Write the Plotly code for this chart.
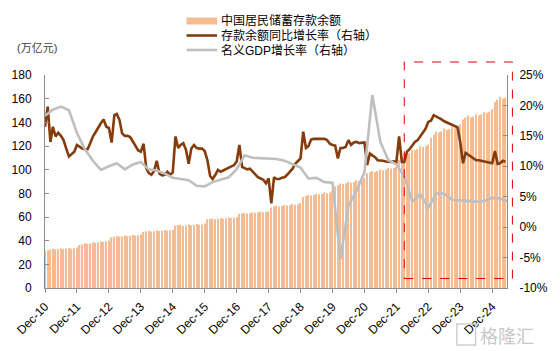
import pandas as pd
import plotly.graph_objects as go

# ---------------- data ----------------
months = pd.date_range("2010-12-01", "2025-05-01", freq="MS").strftime("%Y-%m-%d").tolist()

# 中国居民储蓄存款余额 (万亿元), monthly Dec-10 .. May-25
deposit_balance = (
    [31.5]
    + [32.0, 32.5, 33.0, 32.6, 32.8, 33.4, 33.2, 33.3, 33.7, 33.2, 33.5, 34.2]   # 2011
    + [36.3, 36.9, 37.8, 37.4, 37.7, 38.6, 38.3, 38.5, 39.4, 38.9, 39.2, 40.0]   # 2012
    + [42.8, 43.3, 44.0, 43.4, 43.6, 44.4, 43.9, 44.1, 44.8, 44.2, 44.5, 45.2]   # 2013
    + [47.5, 48.0, 48.4, 47.8, 48.0, 48.7, 48.1, 48.3, 49.0, 48.4, 48.7, 49.3]   # 2014
    + [52.8, 53.2, 53.4, 52.5, 52.9, 53.6, 53.0, 53.2, 54.0, 53.4, 53.7, 54.5]   # 2015
    + [58.0, 58.4, 58.6, 58.1, 58.3, 59.0, 58.6, 58.9, 59.6, 59.2, 59.4, 60.1]   # 2016
    + [62.8, 63.0, 63.4, 62.9, 63.1, 63.9, 63.5, 63.8, 64.6, 64.0, 64.3, 64.8]   # 2017
    + [68.0, 69.0, 69.6, 69.1, 69.3, 70.2, 69.7, 70.0, 71.0, 70.4, 70.8, 71.8]   # 2018
    + [77.0, 77.8, 78.6, 78.2, 78.5, 79.6, 79.2, 79.5, 80.7, 80.1, 80.6, 82.0]   # 2019
    + [86.0, 86.8, 88.3, 87.9, 88.3, 89.7, 89.0, 89.5, 91.0, 90.4, 91.0, 92.9]   # 2020
    + [97.0, 97.8, 98.8, 98.1, 98.7, 100.0, 99.5, 100.0, 101.6, 101.0, 101.5, 102.5]  # 2021
    + [108.4, 110.0, 113.5, 113.0, 113.9, 116.7, 116.5, 117.3, 119.7, 119.1, 119.7, 121.2]  # 2022
    + [127.0, 129.5, 132.3, 131.7, 132.3, 134.6, 133.8, 134.3, 136.0, 135.2, 135.8, 138.3]  # 2023
    + [142.5, 144.0, 145.8, 144.2, 144.8, 146.5, 146.0, 146.6, 148.5, 148.0, 149.0, 151.0]  # 2024
    + [157.2, 159.0, 161.5, 160.2, 160.8]                                        # 2025
)

# 存款余额同比增长率 (%), monthly Dec-10 .. May-25
deposit_yoy = (
    [16.5]
    + [19.8, 14.0, 16.5, 14.9, 15.5, 15.0, 14.3, 12.9, 11.6, 12.0, 12.4, 13.5]   # 2011
    + [13.2, 12.9, 12.8, 12.8, 13.8, 14.9, 15.6, 16.4, 17.1, 17.7, 16.5, 16.3]   # 2012
    + [13.9, 18.4, 18.6, 17.6, 15.4, 15.0, 15.0, 14.8, 14.0, 13.2, 12.6, 12.4]   # 2013
    + [13.7, 9.7, 8.9, 8.6, 9.2, 10.9, 8.8, 8.5, 8.6, 9.1, 8.6, 9.0]             # 2014
    + [14.9, 13.0, 13.5, 13.8, 12.7, 10.4, 12.9, 13.5, 13.0, 12.9, 12.9, 12.5]   # 2015
    + [11.0, 8.4, 7.9, 8.6, 9.4, 9.1, 9.3, 9.5, 9.8, 10.0, 10.2, 10.8]           # 2016
    + [13.5, 9.9, 9.7, 9.5, 9.6, 9.1, 8.6, 8.2, 8.0, 7.8, 7.2, 8.0]              # 2017
    + [3.9, 8.2, 7.9, 7.9, 8.1, 8.2, 8.6, 9.2, 9.6, 10.4, 10.8, 11.3]            # 2018
    + [15.7, 13.0, 13.3, 14.4, 14.5, 14.5, 14.5, 14.6, 14.5, 14.3, 13.7, 13.5]   # 2019
    + [13.4, 11.3, 13.0, 13.0, 13.2, 14.3, 13.5, 13.9, 14.0, 13.8, 13.9, 13.9]   # 2020
    + [10.2, 12.1, 11.8, 11.5, 11.0, 11.0, 10.9, 10.8, 10.75, 10.7, 10.8, 10.7] # 2021
    + [14.9, 10.75, 10.7, 12.4, 12.8, 13.5, 14.0, 14.3, 14.9, 15.5, 16.2, 17.3] # 2022
    + [17.5, 18.4, 18.2, 18.0, 17.7, 17.4, 17.2, 17.0, 16.8, 16.6, 16.4, 14.0]  # 2023
    + [10.5, 12.2, 11.9, 11.6, 11.3, 11.0, 11.0, 10.9, 10.7, 10.6, 10.6, 10.5]  # 2024
    + [12.5, 10.4, 10.5, 10.9, 10.75]                                            # 2025
)

# 名义GDP增长率 (%), quarterly Dec-10 .. Jun-25
quarters = pd.date_range("2010-12-01", "2025-06-01", freq="3MS").strftime("%Y-%m-%d").tolist()
gdp_nominal = (
    [18.3]
    + [19.3, 19.8, 19.2, 15.5]     # 2011
    + [12.8, 10.9, 9.4, 10.0]      # 2012
    + [10.5, 9.5, 10.3, 10.7]      # 2013
    + [9.5, 9.3, 8.8, 8.1]         # 2014
    + [7.9, 7.7, 6.8, 6.7]         # 2015
    + [7.4, 7.8, 8.2, 9.5]         # 2016
    + [11.8, 11.4, 11.3, 11.2]     # 2017
    + [11.2, 10.9, 10.4, 9.8]      # 2018
    + [8.0, 8.1, 7.4, 7.3]         # 2019
    + [-5.3, 3.5, 6.0, 9.0]        # 2020
    + [21.7, 14.0, 11.0, 10.3]     # 2021
    + [8.3, 4.2, 5.4, 3.2]         # 2022
    + [5.5, 5.5, 4.5, 4.4]         # 2023
    + [4.3, 4.2, 4.3, 4.8]         # 2024
    + [4.7, 4.2]                   # 2025
)

left_ticks = [0, 20, 40, 60, 80, 100, 120, 140, 160, 180]
right_ticks = [-10, -5, 0, 5, 10, 15, 20, 25]

legend_labels = ["中国居民储蓄存款余额", "存款余额同比增长率（右轴）", "名义GDP增长率（右轴）"]
bar_color = "#F6BC8F"
brown = "#843C0C"
grey = "#BFBFBF"
axis_grey = "#8C8C8C"
FONT = "Liberation Sans, Arial, Noto Sans CJK SC"

# ---------------- layout geometry ----------------
W, H = 560, 351
L, R, T, B = 37, 507, 75, 288


def xp(px):
    return (px - L) / (R - L)


def yp(py):
    return (B - py) / (B - T)


fig = go.Figure()
fig.add_trace(go.Bar(x=months, y=deposit_balance, marker=dict(color=bar_color, line=dict(width=0)),
                     name=legend_labels[0], yaxis="y"))
fig.add_trace(go.Scatter(x=months, y=deposit_yoy, mode="lines", line=dict(color=brown, width=2.6),
                         name=legend_labels[1], yaxis="y2"))
fig.add_trace(go.Scatter(x=quarters, y=gdp_nominal, mode="lines", line=dict(color=grey, width=2.6),
                         name=legend_labels[2], yaxis="y2"))

shapes = []
annotations = []

# manual legend
rows = [21, 35.5, 50]
shapes.append(dict(type="rect", xref="paper", yref="paper", x0=xp(181), x1=xp(212),
                   y0=yp(24.5), y1=yp(17.5), fillcolor=bar_color, line=dict(width=0)))
shapes.append(dict(type="line", xref="paper", yref="paper", x0=xp(181), x1=xp(212),
                   y0=yp(rows[1]), y1=yp(rows[1]), line=dict(color=brown, width=2.6)))
shapes.append(dict(type="line", xref="paper", yref="paper", x0=xp(181), x1=xp(212),
                   y0=yp(rows[2]), y1=yp(rows[2]), line=dict(color=grey, width=2.6)))
for lab, ry in zip(legend_labels, rows):
    annotations.append(dict(text=lab, xref="paper", yref="paper", x=xp(214), y=yp(ry),
                            xanchor="left", yanchor="middle", showarrow=False,
                            font=dict(family=FONT, size=12, color="#000000")))

# unit label
annotations.append(dict(text="(万亿元)", xref="paper", yref="paper", x=xp(6), y=yp(48),
                        xanchor="left", yanchor="middle", showarrow=False,
                        font=dict(family=FONT, size=11, color="#404040")))

# red dashed highlight box
shapes.append(dict(type="rect", xref="paper", yref="paper", x0=xp(402.5), x1=xp(512.5),
                   y0=yp(278.5), y1=yp(62), line=dict(color="#E00000", width=1, dash="dash"),
                   fillcolor="rgba(0,0,0,0)"))

# watermark
shapes.append(dict(type="rect", xref="paper", yref="paper", x0=xp(456), x1=xp(475),
                   y0=yp(345), y1=yp(324), line=dict(color="#CFCFCF", width=1.5),
                   fillcolor="rgba(0,0,0,0)"))
annotations.append(dict(text="格隆汇", xref="paper", yref="paper", x=xp(478), y=yp(334.5),
                        xanchor="left", yanchor="middle", showarrow=False,
                        font=dict(family="Noto Sans CJK SC", size=18, color="#C8C8C8")))

fig.update_layout(
    width=W, height=H,
    margin=dict(l=L, r=W - R, t=T, b=H - B, pad=0),
    paper_bgcolor="white", plot_bgcolor="white",
    showlegend=False,
    bargap=0.45,
    font=dict(family=FONT, size=12, color="#000000"),
    xaxis=dict(type="date", range=["2010-12-01", "2025-05-19"],
               tick0="2010-12-01", dtick="M12", tickformat="%b-%y", tickangle=-45,
               showline=True, linecolor=axis_grey, linewidth=1,
               ticks="outside", ticklen=4, tickcolor=axis_grey,
               showgrid=False, zeroline=False, ticklabelstandoff=2,
               tickfont=dict(family=FONT, size=12, color="#000000")),
    yaxis=dict(range=[0, 180], tickvals=left_ticks, showline=True, linecolor=axis_grey,
               linewidth=1, ticks="inside", ticklen=4, tickcolor=axis_grey,
               showgrid=False, zeroline=False, ticklabelstandoff=10,
               tickfont=dict(family=FONT, size=12, color="#000000")),
    yaxis2=dict(range=[-10, 25], tickvals=right_ticks, ticktext=[f"{v}%" for v in right_ticks],
                overlaying="y", side="right", showline=True, linecolor=axis_grey, linewidth=1,
                ticks="inside", ticklen=4, tickcolor=axis_grey,
                showgrid=False, zeroline=False, ticklabelstandoff=9,
                tickfont=dict(family=FONT, size=12, color="#000000")),
    shapes=shapes,
    annotations=annotations,
)

fig.write_html("out.html")
